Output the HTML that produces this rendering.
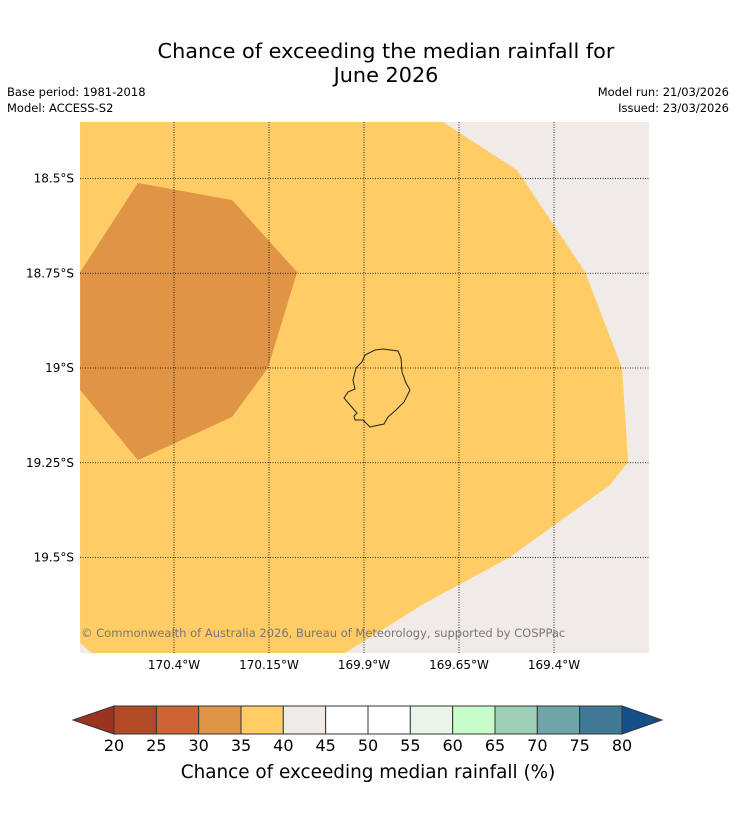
<!DOCTYPE html>
<html><head><meta charset="utf-8"><style>
body{margin:0;background:#fff;font-family:"DejaVu Sans",sans-serif}
</style></head><body>
<svg width="736" height="816" viewBox="0 0 736 816" xmlns="http://www.w3.org/2000/svg" id="svg" font-family="DejaVu Sans, sans-serif">
<text x="386" y="58" text-anchor="middle" font-size="20.8">Chance of exceeding the median rainfall for</text>
<text x="386" y="82" text-anchor="middle" font-size="20.8">June 2026</text>
<text x="7" y="96" font-size="11.5">Base period: 1981-2018</text>
<text x="7" y="112" font-size="11.5">Model: ACCESS-S2</text>
<text x="729" y="96" font-size="11.5" text-anchor="end">Model run: 21/03/2026</text>
<text x="729" y="112" font-size="11.5" text-anchor="end">Issued: 23/03/2026</text>
<defs><clipPath id="mc"><rect x="80" y="122" width="569" height="531"/></clipPath></defs>
<g id="map" clip-path="url(#mc)">
<rect x="80" y="122" width="569" height="531" fill="#f0ebe6"/>
</g>
<path d="M375,350 L383,349 L398,351 L401,358 L402,372 L406,383 L410,390 L404,402 L396,410 L388,417 L384,424 L370,427 L363,420 L355,420 L354,416 L357,413 L350,405 L344,398 L348,392 L355,389 L353,380 L356,368 L362,362 L365,355 Z" fill="none" stroke="#222" stroke-width="1"/>
<g id="grid"></g>
<g id="cbar"></g>
<text x="81" y="637" font-size="11.5" fill="#777">© Commonwealth of Australia 2026, Bureau of Meteorology, supported by COSPPac</text>
<text x="368" y="778" text-anchor="middle" font-size="18.4">Chance of exceeding median rainfall (%)</text>
</svg>
<script>
const lonTicks=[-170.4,-170.15,-169.9,-169.65,-169.4];
const lonLabels=["170.4°W","170.15°W","169.9°W","169.65°W","169.4°W"];
const latTicks=[-18.5,-18.75,-19,-19.25,-19.5];
const latLabels=["18.5°S","18.75°S","19°S","19.25°S","19.5°S"];
const band35Lon=[-170.647,-169.692,-169.497,-169.318,-169.221,-169.205,-169.253,-169.516,-169.739,-169.95,-170.616,-170.647];
const band35Lat=[-18.351,-18.351,-18.478,-18.747,-19.0,-19.248,-19.309,-19.499,-19.62,-19.752,-19.752,-19.726];
const band30Lon=[-170.647,-170.495,-170.247,-170.076,-170.153,-170.247,-170.495,-170.647];
const band30Lat=[-18.747,-18.512,-18.557,-18.747,-19.0,-19.129,-19.243,-19.058];
const cbLevels=[20,25,30,35,40,45,50,55,60,65,70,75,80];
const cbColors=["#b24b25","#cc6533","#e09445","#ffcc66","#f0ebe6","#ffffff","#ffffff","#e9f5e9","#c8fcc8","#9ccfb6","#6fa5a8","#417895"];
const cbUnder="#9a3320", cbOver="#144f88";
const NS="http://www.w3.org/2000/svg";
const X=lon=>364+(lon+169.9)*380;
const Y=lat=>368-(lat+19)*379;
function mk(t,a,p){const e=document.createElementNS(NS,t);for(const k in a)e.setAttribute(k,a[k]);p.appendChild(e);return e;}
const map=document.getElementById('map');
function poly(lons,lats,fill,name){
 const p=mk('polygon',{points:lons.map((l,i)=>X(l)+','+Y(lats[i])).join(' '),fill:fill},map);
 
 
}
poly(band35Lon,band35Lat,'#ffcc66','region-35-40');
poly(band30Lon,band30Lat,'#e09445','region-30-35');
const g=document.getElementById('grid');
lonTicks.forEach((l,i)=>{
 const ln=mk('line',{x1:X(l),x2:X(l),y1:122,y2:653,stroke:'#000','stroke-width':0.8,'stroke-dasharray':'1,1.5'},g);
 
 
 const t=mk('text',{x:X(l),y:669,'text-anchor':'middle','font-size':12},g);t.textContent=lonLabels[i];
 
 
});
latTicks.forEach((l,i)=>{
 const ln=mk('line',{x1:80,x2:649,y1:Y(l),y2:Y(l),stroke:'#000','stroke-width':0.8,'stroke-dasharray':'1,1.5'},g);
 
 
 const t=mk('text',{x:74,y:Y(l)+4,'text-anchor':'end','font-size':12},g);t.textContent=latLabels[i];
 
 
});
const cb=document.getElementById('cbar');
const cx0=114,cx1=622,cy0=706,cy1=734,n=cbColors.length,w=(cx1-cx0)/n;
const lt=mk('polygon',{points:`${cx0},${cy0} 73,720 ${cx0},${cy1}`,fill:cbUnder,stroke:'#333','stroke-width':1},cb);


const rt=mk('polygon',{points:`${cx1},${cy0} 662,720 ${cx1},${cy1}`,fill:cbOver,stroke:'#333','stroke-width':1},cb);


cbColors.forEach((c,i)=>{
 const r=mk('rect',{x:cx0+i*w,y:cy0,width:w,height:cy1-cy0,fill:c,stroke:'#333','stroke-width':1},cb);
 
 
});
cbLevels.forEach((v,i)=>{
 const t=mk('text',{x:cx0+i*w,y:751,'text-anchor':'middle','font-size':16},cb);t.textContent=v;
 
 
});
</script>
</body></html>
